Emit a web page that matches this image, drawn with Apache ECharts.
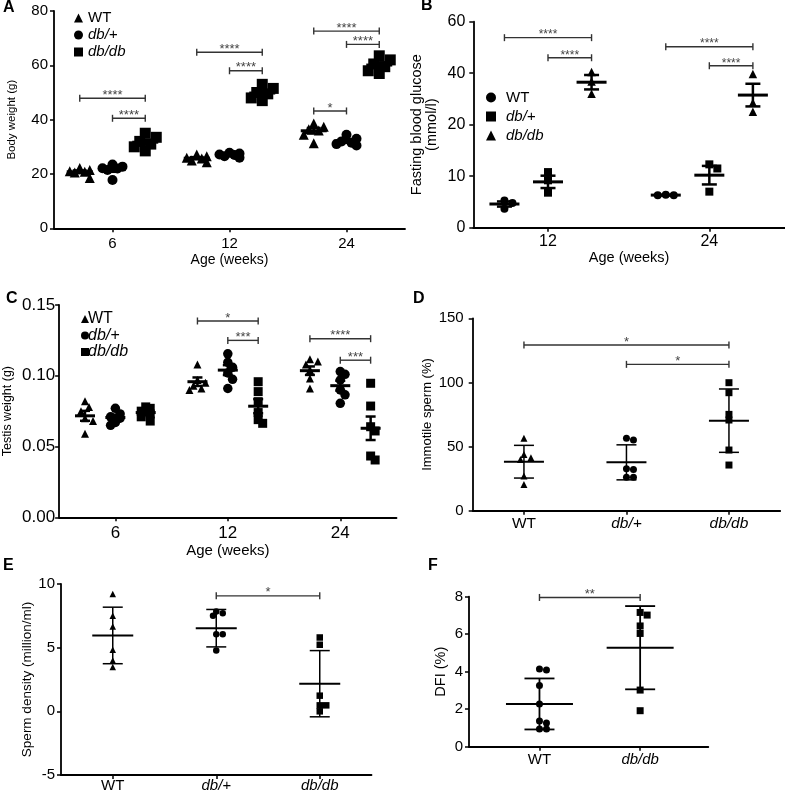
<!DOCTYPE html>
<html><head><meta charset="utf-8">
<script src="https://cdn.jsdelivr.net/npm/echarts@6/dist/echarts.min.js"></script>
<style>html,body{margin:0;padding:0;background:#fff}#c{width:785px;height:793px}</style>
</head><body><div id="c"></div>
<script>
// ================= DATA =================
const genotypes = ['WT', 'db/+', 'db/db'];
const ageLabels = ['6', '12', '24'];
const ageLabelsB = ['12', '24'];

// A: body weight (g), [age][animal]
const bwWT  = [[22.2,21.5,21,20.8,20.5,18.5],[27.2,26.5,26,25.7,25,24.3],[38.6,37.4,36.5,36,34.4,31.3]];
const bwHet = [[23.5,22.7,22.1,22,21.5,17.8],[27.8,27.5,27.2,27,26.5,26],[34.4,33,32,31.5,31,30.5]];
const bwDb  = [[35,33.5,32,31,30,28.5],[53,51.5,50,49.5,48,47],[63.5,62,60.5,59.5,58,57]];
const bwMean = [[20.8,25.8,35.9],[21.6,27.0,32.1],[31.7,49.8,60.1]];
const bwSem  = [[0.5,0.4,1.0],[0.8,0.3,0.6],[0.9,0.9,1.0]];
const bwBrackets = [[0,0,2,47.9,'****'],[0,1,2,40.5,'****'],[1,0,2,64.8,'****'],[1,1,2,58,'****'],[2,0,2,72.6,'****'],[2,1,2,67.7,'****'],[2,0,1,43.2,'*']];

// B: fasting blood glucose (mmol/l)
const gluWT  = [[3.7,4.8,5.3],[6.3,6.3,6.4]];
const gluHet = [[6.8,9.2,10.8],[7.0,11.5,12.3]];
const gluDb  = [[32,36.8,40.5],[25.0,28.5,39.7]];
const gluMean = [[4.6,6.33],[8.9,10.2],[36.5,31.5]];
const gluSem  = [[0.5,0.05],[1.2,1.8],[2.8,4.4]];
const gluTicks = [0,10,20,40,60];
const gluBrackets = [[0,0,2,53.8,'****'],[0,1,2,46,'****'],[1,0,2,50.3,'****'],[1,1,2,42.9,'****']];

// C: testis weight (g)
const twWT  = [[0.082,0.078,0.075,0.070,0.068,0.059],[0.108,0.097,0.095,0.093,0.091,0.090],[0.1116,0.110,0.108,0.104,0.098,0.091]];
const twHet = [[0.077,0.073,0.071,0.070,0.067,0.065],[0.1155,0.1095,0.106,0.102,0.0975,0.091],[0.103,0.101,0.097,0.090,0.0865,0.0805]];
const twDb  = [[0.078,0.077,0.075,0.073,0.071,0.068],[0.0958,0.0888,0.0817,0.074,0.069,0.0664],[0.0947,0.0786,0.064,0.061,0.0433,0.0405]];
const twMean = [[0.0717,0.0958,0.1036],[0.0705,0.1040,0.0930],[0.0740,0.0785,0.0629]];
const twSem  = [[0.0035,0.003,0.003],[0.002,0.0035,0.0035],[0.002,0.005,0.0083]];
const twBrackets = [[1,0,2,0.1387,'*'],[1,1,2,0.125,'***'],[2,0,2,0.1262,'****'],[2,1,2,0.111,'***']];

// D: immotile sperm (%)
const immotile = [[56.4,43.9,41.3,40,27,20.5],[56.4,55.1,32.8,32.2,26,26],[99.8,92,75.1,70.7,47.3,35.6]];
const immMean = [38.2,37.7,70.2];
const immSd   = [12.75,13.65,24.7];
const immBrackets = [[0,2,129.2,'*'],[1,2,114.1,'*']];

// E: sperm density (million/ml)
const density = [[9.22,7.5,6.66,4.83,4.0,3.48],[7.84,7.71,7.5,6.06,6.06,4.77],[5.8,5.23,1.23,0.47,0.47,0]];
const denMean = [5.96,6.53,2.17];
const denSd   = [2.22,1.47,2.6];
const denBrackets = [[1,2,9.07,'*']];

// F: DFI (%)
const dfiGroups = ['WT','db/db'];
const dfi = [[4.14,4.09,3.27,2.28,1.37,1.26,0.94,0.94],[7.16,7.02,6.44,6.04,3.02,1.92]];
const dfiMean = [2.28,5.28];
const dfiSd   = [1.36,2.22];
const dfiBrackets = [[0,1,7.96,'**']];

// ================= HELPERS =================
const FONT = "'Liberation Sans', Arial, Helvetica, sans-serif";
const grids = [], xAxes = [], yAxes = [], series = [], legends = [];

function tB(v) { // piecewise axis of panel B (equal spacing between ticks)
  for (let i = 0; i < gluTicks.length - 1; i++) {
    if (v <= gluTicks[i+1]) return i + (v - gluTicks[i]) / (gluTicks[i+1] - gluTicks[i]);
  }
  return gluTicks.length - 1;
}

// column-scatter layout: greedy collision avoidance in pixel space
function swarm(vals, center, size, pxX, pxY, maxOff) {
  const idx = vals.map((v,i)=>i).sort((a,b)=>vals[b]-vals[a]);
  const xs = new Array(vals.length);
  const placed = [];
  const step = size*0.5, minD = size*0.75;
  idx.forEach(i => {
    const y = vals[i]*pxY;
    let best = 0, bestPen = Infinity;
    for (let k = 0; k <= 24; k++) {
      const off = k === 0 ? 0 : (k%2 ? 1 : -1)*Math.ceil(k/2)*step;
      if (Math.abs(off) > maxOff + 1e-6) continue;
      let pen = 0;
      placed.forEach(p => { const d = Math.hypot(off-p[0], y-p[1]); if (d < minD) pen += minD - d; });
      if (pen === 0) { best = off; bestPen = 0; break; }
      if (pen < bestPen - 1e-9) { bestPen = pen; best = off; }
    }
    placed.push([best, y]);
    xs[i] = center + best/pxX;
  });
  return xs;
}

function addPanel(c) {
  const gi = grids.length;
  grids.push({left:c.left, top:c.top, width:c.width, height:c.height});
  xAxes.push({
    gridIndex:gi, type:'value', min:c.xmin, max:c.xmax,
    axisLine:{show:true, onZero:false, lineStyle:{color:'#000', width:1.8}},
    axisTick:{show:true, customValues:c.xTicks, length:4, lineStyle:{color:'#000', width:1.5}},
    axisLabel:{show:true, customValues:c.xTicks, formatter:c.xFmt, color:'#000', fontSize:c.xFs, fontFamily:FONT, margin:c.xMargin,
      rich:{i:{fontStyle:'italic', fontSize:c.xFs, fontFamily:FONT, color:'#000'}}},
    splitLine:{show:false},
    name:c.xName || '', nameLocation:'middle', nameGap:c.xNameGap || 0,
    nameTextStyle:{color:'#000', fontSize:c.xNameFs || 14, fontFamily:FONT}
  });
  yAxes.push({
    gridIndex:gi, type:'value', min:c.ymin, max:c.ymax, interval:c.yInt,
    axisLine:{show:true, onZero:false, lineStyle:{color:'#000', width:1.8}},
    axisTick:{show:true, length:4, lineStyle:{color:'#000', width:1.5}},
    axisLabel:{show:true, formatter:c.yFmt, color:'#000', fontSize:c.yFs, fontFamily:FONT, margin:c.yMargin},
    splitLine:{show:false},
    name:c.yName, nameLocation:'middle', nameRotate:90, nameGap:c.yNameGap,
    nameTextStyle:{color:'#000', fontSize:c.yNameFs, fontFamily:FONT, lineHeight:c.yNameLh || c.yNameFs*1.05}
  });
  c.pxX = c.width/(c.xmax-c.xmin);
  c.pxY = c.height/(c.ymax-c.ymin);
  c.gi = gi;
  return c;
}

function errRender(mHalf, cHalf, lwMean, lwBar) {
  return function(params, api) {
    const x = api.value(0), m = api.value(1), lo = api.value(2), hi = api.value(3);
    const pm = api.coord([x,m]), pl = api.coord([x,lo]), ph = api.coord([x,hi]);
    const st = {stroke:'#000', lineWidth:lwBar};
    return {type:'group', children:[
      {type:'line', shape:{x1:pl[0], y1:pl[1], x2:ph[0], y2:ph[1]}, style:st},
      {type:'line', shape:{x1:pl[0]-cHalf, y1:pl[1], x2:pl[0]+cHalf, y2:pl[1]}, style:st},
      {type:'line', shape:{x1:ph[0]-cHalf, y1:ph[1], x2:ph[0]+cHalf, y2:ph[1]}, style:st},
      {type:'line', shape:{x1:pm[0]-mHalf, y1:pm[1], x2:pm[0]+mHalf, y2:pm[1]}, style:{stroke:'#000', lineWidth:lwMean}}
    ]};
  };
}

function brRender(labels, fs) {
  return function(params, api) {
    const y = api.value(2);
    const p1 = api.coord([api.value(0), y]), p2 = api.coord([api.value(1), y]);
    const st = {stroke:'#333', lineWidth:1.4};
    return {type:'group', children:[
      {type:'line', shape:{x1:p1[0], y1:p1[1], x2:p2[0], y2:p2[1]}, style:st},
      {type:'line', shape:{x1:p1[0], y1:p1[1]-3.5, x2:p1[0], y2:p1[1]+3.5}, style:st},
      {type:'line', shape:{x1:p2[0], y1:p2[1]-3.5, x2:p2[0], y2:p2[1]+3.5}, style:st},
      {type:'text', style:{text:labels[params.dataIndex], x:(p1[0]+p2[0])/2, y:p1[1]+3.5,
        align:'center', verticalAlign:'bottom', fontSize:fs, fontFamily:FONT, fill:'#444'}}
    ]};
  };
}

function addScatter(p, name, symbol, size, pts) {
  series.push({type:'scatter', name:name, xAxisIndex:p.gi, yAxisIndex:p.gi, symbol:symbol, symbolSize:size,
    itemStyle:{color:'#000', opacity:1}, data:pts, z:2, silent:true});
}
function addErr(p, data, st) {
  series.push({type:'custom', xAxisIndex:p.gi, yAxisIndex:p.gi, renderItem:errRender(st[0],st[1],st[2],st[3]),
    data:data, z:3, silent:true, clip:false});
}
function addBr(p, data, labels, fs) {
  series.push({type:'custom', xAxisIndex:p.gi, yAxisIndex:p.gi, renderItem:brRender(labels, fs),
    data:data, z:3, silent:true, clip:false});
}
const italicFmt = names => v => { const s = names[Math.round(v)]; return s === 'WT' ? s : '{i|' + s + '}'; };
function legendItems(icons) {
  return genotypes.map((n,i) => {
    const it = {name:n, icon:icons[i], itemStyle:{color:'#000'}};
    if (n !== 'WT') it.textStyle = {fontStyle:'italic'};
    return it;
  });
}

// ================= PANEL A =================
const pA = addPanel({left:54, top:11, width:351, height:217.3, xmin:-0.5, xmax:2.5, xTicks:[0,1,2],
  xFmt:v=>ageLabels[Math.round(v)], xFs:15, xMargin:8, xName:'Age (weeks)', xNameGap:25, xNameFs:14,
  ymin:0, ymax:80, yInt:20, yFs:15, yMargin:6, yName:'Body weight (g)', yNameGap:36, yNameFs:11.5});
const offA = [-0.28, 0, 0.28];
const symA = ['triangle','circle','rect'], sizeA = [10,10,11];
[bwWT, bwHet, bwDb].forEach((d,g) => {
  const pts = [];
  d.forEach((vals,c) => { const xs = swarm(vals, c+offA[g], sizeA[g], pA.pxX, pA.pxY, 11); vals.forEach((v,i)=>pts.push([xs[i], v])); });
  addScatter(pA, genotypes[g], symA[g], sizeA[g], pts);
  addErr(pA, bwMean[g].map((m,c)=>[c+offA[g], m, m-bwSem[g][c], m+bwSem[g][c]]), [13,7,3,2.5]);
});
addBr(pA, bwBrackets.map(b=>[b[0]+offA[b[1]], b[0]+offA[b[2]], b[3]]), bwBrackets.map(b=>b[4]), 13);
legends.push({left:74, top:10.5, padding:0, orient:'vertical', itemWidth:9, itemHeight:9, itemGap:2, selectedMode:false,
  textStyle:{fontSize:15, fontFamily:FONT, color:'#000'}, data:legendItems(['triangle','circle','rect'])});

// ================= PANEL B =================
const pB = addPanel({left:473.3, top:21.7, width:311.7, height:206, xmin:-0.463, xmax:1.469, xTicks:[0,1],
  xFmt:v=>ageLabelsB[Math.round(v)], xFs:16, xMargin:6, xName:'Age (weeks)', xNameGap:23, xNameFs:14.5,
  ymin:0, ymax:4, yInt:1, yFmt:v=>String(gluTicks[Math.round(v)]), yFs:16, yMargin:8,
  yName:'Fasting blood glucose\n(mmol/l)', yNameGap:34, yNameFs:14.5, yNameLh:15});
const offB = [-0.27, 0, 0.27];
const symB = ['circle','rect','triangle'], sizeB = [8,8,8.5];
[gluWT, gluHet, gluDb].forEach((d,g) => {
  const pts = [];
  d.forEach((vals,c) => { const tv = vals.map(tB); const xs = swarm(tv, c+offB[g], sizeB[g], pB.pxX, pB.pxY, 8); tv.forEach((v,i)=>pts.push([xs[i], v])); });
  addScatter(pB, genotypes[g], symB[g], sizeB[g], pts);
  addErr(pB, gluMean[g].map((m,c)=>[c+offB[g], tB(m), tB(m-gluSem[g][c]), tB(m+gluSem[g][c])]), [15,7.5,3,2.5]);
});
addBr(pB, gluBrackets.map(b=>[b[0]+offB[b[1]], b[0]+offB[b[2]], tB(b[3])]), gluBrackets.map(b=>b[4]), 12);
legends.push({left:486, top:90, padding:0, orient:'vertical', itemWidth:10, itemHeight:10, itemGap:4, selectedMode:false,
  textStyle:{fontSize:15, fontFamily:FONT, color:'#000', padding:[0,0,0,5]}, data:legendItems(['circle','rect','triangle'])});

// ================= PANEL C =================
const pC = addPanel({left:59, top:305, width:337.5, height:212.3, xmin:-0.5, xmax:2.5, xTicks:[0,1,2],
  xFmt:v=>ageLabels[Math.round(v)], xFs:17, xMargin:8, xName:'Age (weeks)', xNameGap:26, xNameFs:15,
  ymin:0, ymax:0.15, yInt:0.05, yFmt:v=>v.toFixed(2), yFs:17, yMargin:4,
  yName:'Testis weight (g)', yNameGap:45, yNameFs:12.5});
const offC = [-0.27, 0, 0.27];
const symC = ['triangle','circle','rect'], sizeC = [8,9.5,9];
[twWT, twHet, twDb].forEach((d,g) => {
  const pts = [];
  d.forEach((vals,c) => { const xs = swarm(vals, c+offC[g], sizeC[g], pC.pxX, pC.pxY, 8); vals.forEach((v,i)=>pts.push([xs[i], v])); });
  addScatter(pC, genotypes[g], symC[g], sizeC[g], pts);
  addErr(pC, twMean[g].map((m,c)=>[c+offC[g], m, m-twSem[g][c], m+twSem[g][c]]), [10,5,3,2.5]);
});
addBr(pC, twBrackets.map(b=>[b[0]+offC[b[1]], b[0]+offC[b[2]], b[3]]), twBrackets.map(b=>b[4]), 13);
legends.push({left:81, top:311, padding:0, orient:'vertical', itemWidth:8, itemHeight:8, itemGap:0.5, selectedMode:false,
  textStyle:{fontSize:16, fontFamily:FONT, color:'#000', padding:[0,0,0,-6]}, data:legendItems(['triangle','circle','rect'])});

// ================= PANEL D =================
const pD = addPanel({left:472.7, top:318.3, width:307.5, height:192.4, xmin:-0.5, xmax:2.5, xTicks:[0,1,2],
  xFmt:italicFmt(genotypes), xFs:15.5, xMargin:5,
  ymin:0, ymax:150, yInt:50, yFs:15, yMargin:9, yName:'Immotile sperm (%)', yNameGap:38, yNameFs:13});
const symD = ['triangle','circle','rect'];
immotile.forEach((vals,g) => {
  const xs = swarm(vals, g, 7, pD.pxX, pD.pxY, 11);
  addScatter(pD, genotypes[g], symD[g], 7, vals.map((v,i)=>[xs[i], v]));
});
addErr(pD, immMean.map((m,g)=>[g, m, m-immSd[g], m+immSd[g]]), [20,10,2,1.5]);
addBr(pD, immBrackets.map(b=>[b[0], b[1], b[2]]), immBrackets.map(b=>b[3]), 13);

// ================= PANEL E =================
const pE = addPanel({left:61, top:584, width:310.5, height:191.3, xmin:-0.5, xmax:2.5, xTicks:[0,1,2],
  xFmt:italicFmt(genotypes), xFs:15, xMargin:3,
  ymin:-5, ymax:10, yInt:5, yFs:15, yMargin:6, yName:'Sperm density (million/ml)', yNameGap:25, yNameFs:13.5});
density.forEach((vals,g) => {
  const xs = swarm(vals, g, 6.5, pE.pxX, pE.pxY, 10);
  addScatter(pE, genotypes[g], symD[g], 6.5, vals.map((v,i)=>[xs[i], v]));
});
addErr(pE, denMean.map((m,g)=>[g, m, m-denSd[g], m+denSd[g]]), [20.5,10,2,1.5]);
addBr(pE, denBrackets.map(b=>[b[0], b[1], b[2]]), denBrackets.map(b=>b[3]), 13);

// ================= PANEL F =================
const pF = addPanel({left:469, top:596.7, width:239.3, height:150, xmin:-0.7, xmax:1.677, xTicks:[0,1],
  xFmt:italicFmt(dfiGroups), xFs:15, xMargin:6,
  ymin:0, ymax:8, yInt:2, yFs:15, yMargin:6, yName:'DFI (%)', yNameGap:20, yNameFs:14.5});
const symF = ['circle','rect'];
dfi.forEach((vals,g) => {
  const xs = swarm(vals, g, 7, pF.pxX, pF.pxY, 15);
  addScatter(pF, dfiGroups[g], symF[g], 7, vals.map((v,i)=>[xs[i], v]));
});
addErr(pF, dfiMean.map((m,g)=>[g, m, m-dfiSd[g], m+dfiSd[g]]), [33.5,15,2,1.8]);
addBr(pF, dfiBrackets.map(b=>[b[0], b[1], b[2]]), dfiBrackets.map(b=>b[3]), 13);

// ================= PANEL LETTERS =================
const letterPos = [['A',3,0],['B',421,-2],['C',6,291],['D',413,291],['E',3,558],['F',428,558]];
const graphic = letterPos.map(l => ({type:'text', left:l[1], top:l[2],
  style:{text:l[0], font:"bold 16px 'Liberation Sans', Arial, sans-serif", fill:'#000'}}));

const chart = echarts.init(document.getElementById('c'), null, {renderer:'canvas', width:785, height:793});
chart.setOption({
  animation:false, backgroundColor:'#fff',
  grid:grids, xAxis:xAxes, yAxis:yAxes, series:series, legend:legends, graphic:graphic
});
</script></body></html>
